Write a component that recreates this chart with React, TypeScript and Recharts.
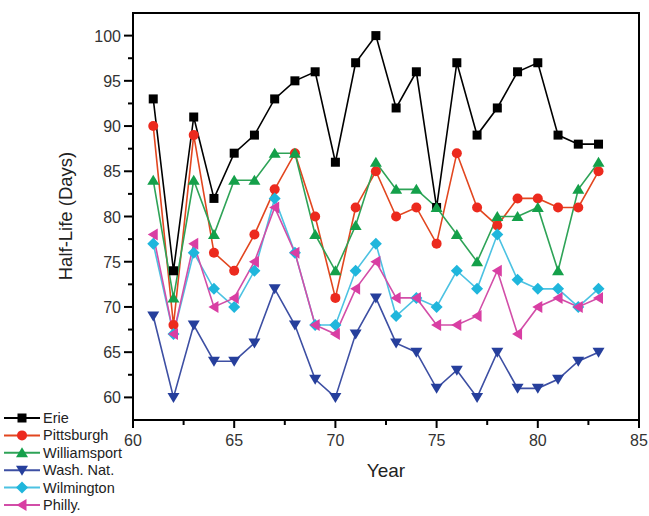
import React from 'react';
import { LineChart, Line, XAxis, YAxis, Legend, ReferenceArea, Label } from 'recharts';

const years = [61, 62, 63, 64, 65, 66, 67, 68, 69, 70, 71, 72, 73, 74, 75, 76, 77, 78, 79, 80, 81, 82, 83];
const erie = [93, 74, 91, 82, 87, 89, 93, 95, 96, 86, 97, 100, 92, 96, 81, 97, 89, 92, 96, 97, 89, 88, 88];
const pittsburgh = [90, 68, 89, 76, 74, 78, 83, 87, 80, 71, 81, 85, 80, 81, 77, 87, 81, 79, 82, 82, 81, 81, 85];
const williamsport = [84, 71, 84, 78, 84, 84, 87, 87, 78, 74, 79, 86, 83, 83, 81, 78, 75, 80, 80, 81, 74, 83, 86];
const washNat = [69, 60, 68, 64, 64, 66, 72, 68, 62, 60, 67, 71, 66, 65, 61, 63, 60, 65, 61, 61, 62, 64, 65];
const wilmington = [77, 67, 76, 72, 70, 74, 82, 76, 68, 68, 74, 77, 69, 71, 70, 74, 72, 78, 73, 72, 72, 70, 72];
const philly = [78, 67, 77, 70, 71, 75, 81, 76, 68, 67, 72, 75, 71, 71, 68, 68, 69, 74, 67, 70, 71, 70, 71];

const xTicks = [60, 62.5, 65, 67.5, 70, 72.5, 75, 77.5, 80, 82.5, 85];
const yTicks = [57.5, 60, 62.5, 65, 67.5, 70, 72.5, 75, 77.5, 80, 82.5, 85, 87.5, 90, 92.5, 95, 97.5, 100, 102.5];

const data = years.map((y, i) => ({
  year: y,
  erie: erie[i],
  pittsburgh: pittsburgh[i],
  williamsport: williamsport[i],
  washNat: washNat[i],
  wilmington: wilmington[i],
  philly: philly[i],
}));

type Shape = 'square' | 'circle' | 'triUp' | 'triDown' | 'diamond' | 'triLeft';

const series: { key: string; name: string; color: string; line: string; shape: Shape }[] = [
  { key: 'erie', name: 'Erie', color: '#000000', line: '#000000', shape: 'square' },
  { key: 'pittsburgh', name: 'Pittsburgh', color: '#ec2a1e', line: '#e2461f', shape: 'circle' },
  { key: 'williamsport', name: 'Williamsport', color: '#14a04a', line: '#2ea357', shape: 'triUp' },
  { key: 'washNat', name: 'Wash. Nat.', color: '#263f9c', line: '#3d4fa3', shape: 'triDown' },
  { key: 'wilmington', name: 'Wilmington', color: '#1fb6dc', line: '#4cc2e2', shape: 'diamond' },
  { key: 'philly', name: 'Philly.', color: '#d93ea3', line: '#d24ea8', shape: 'triLeft' },
];

function marker(shape: Shape, cx: number, cy: number, color: string, key?: string) {
  switch (shape) {
    case 'square':
      return <rect key={key} x={cx - 4.5} y={cy - 4.5} width={9} height={9} fill={color} />;
    case 'circle':
      return <circle key={key} cx={cx} cy={cy} r={5} fill={color} />;
    case 'triUp':
      return <polygon key={key} points={`${cx - 6},${cy + 4.5} ${cx + 6},${cy + 4.5} ${cx},${cy - 5.5}`} fill={color} />;
    case 'triDown':
      return <polygon key={key} points={`${cx - 6},${cy - 4.5} ${cx + 6},${cy - 4.5} ${cx},${cy + 5.5}`} fill={color} />;
    case 'diamond':
      return <polygon key={key} points={`${cx},${cy - 6} ${cx + 6},${cy} ${cx},${cy + 6} ${cx - 6},${cy}`} fill={color} />;
    case 'triLeft':
      return <polygon key={key} points={`${cx + 4.5},${cy - 6} ${cx + 4.5},${cy + 6} ${cx - 5.5},${cy}`} fill={color} />;
  }
  return null;
}

const FONT = '"Liberation Sans", Arial, sans-serif';

const XTick = (props: any) => {
  const { x, y, payload } = props;
  const v = payload.value;
  const major = v % 5 === 0;
  return (
    <g>
      <line x1={x} y1={y} x2={x} y2={y + (major ? 8 : 5)} stroke="#000" strokeWidth={2} />
      {major && (
        <text x={x} y={y + 26} textAnchor="middle" fontSize={16} fill="#333" fontFamily={FONT}>
          {v}
        </text>
      )}
    </g>
  );
};

const YTick = (props: any) => {
  const { x, y, payload } = props;
  const v = payload.value;
  const major = v % 5 === 0;
  if (v < 58 || v > 102) return <g />;
  return (
    <g>
      <line x1={x} y1={y} x2={x - (major ? 9 : 5)} y2={y} stroke="#000" strokeWidth={2} />
      {major && (
        <text x={x - 12} y={y + 6} textAnchor="end" fontSize={16} fill="#333" fontFamily={FONT}>
          {v}
        </text>
      )}
    </g>
  );
};

const LegendContent = () => (
  <svg width={140} height={106} style={{ display: 'block' }}>
    {series.map((s, i) => {
      const cy = 8 + i * 17.4;
      return (
        <g key={s.key}>
          <line x1={4} y1={cy} x2={40} y2={cy} stroke={s.line} strokeWidth={2} />
          {marker(s.shape, 22, cy, s.color)}
          <text x={43} y={cy + 5} fontSize={14.5} fill="#222" fontFamily={FONT}>
            {s.name}
          </text>
        </g>
      );
    })}
  </svg>
);

export default function App() {
  return (
    <div style={{ position: 'absolute', left: 0, top: 0, width: 649, height: 516, background: '#fff' }}>
      <LineChart
        width={649}
        height={516}
        data={data}
        margin={{ top: 13, right: 10, bottom: 66, left: 73 }}
      >
        <ReferenceArea x1={60} x2={85} y1={57.5} y2={102.5} fill="none" stroke="#000" strokeWidth={2} ifOverflow="extendDomain" />
        <XAxis
          type="number"
          dataKey="year"
          domain={[60, 85]}
          ticks={xTicks}
          interval={0}
          tickSize={0}
          tickMargin={0}
          tickLine={false}
          tick={<XTick />}
          axisLine={{ stroke: '#000', strokeWidth: 2 }}
          height={30}
          allowDecimals
        >
          <Label
            content={() => (
              <text x={386} y={477} textAnchor="middle" fontSize={19} fill="#222" fontFamily={FONT}>
                Year
              </text>
            )}
          />
        </XAxis>
        <YAxis
          type="number"
          domain={[57.5, 102.5]}
          ticks={yTicks}
          interval={0}
          tickSize={0}
          tickMargin={0}
          tickLine={false}
          tick={<YTick />}
          axisLine={{ stroke: '#000', strokeWidth: 2 }}
          width={60}
          allowDecimals
        >
          <Label
            content={() => (
              <text x={72} y={216} textAnchor="middle" fontSize={18.5} fill="#222" fontFamily={FONT} transform="rotate(-90 72 216)">
                Half-Life (Days)
              </text>
            )}
          />
        </YAxis>
        {series.map((s) => (
          <Line
            key={s.key}
            type="linear"
            dataKey={s.key}
            name={s.name}
            stroke={s.line}
            strokeWidth={1.6}
            isAnimationActive={false}
            dot={(p: any) => marker(s.shape, p.cx, p.cy, s.color, `${s.key}-${p.index}`)}
            activeDot={false}
          />
        ))}
        <Legend
          layout="vertical"
          align="center"
          verticalAlign="middle"
          content={<LegendContent />}
          wrapperStyle={{ position: 'absolute', left: 0, top: 410, width: 140, height: 106 }}
        />
      </LineChart>
    </div>
  );
}
